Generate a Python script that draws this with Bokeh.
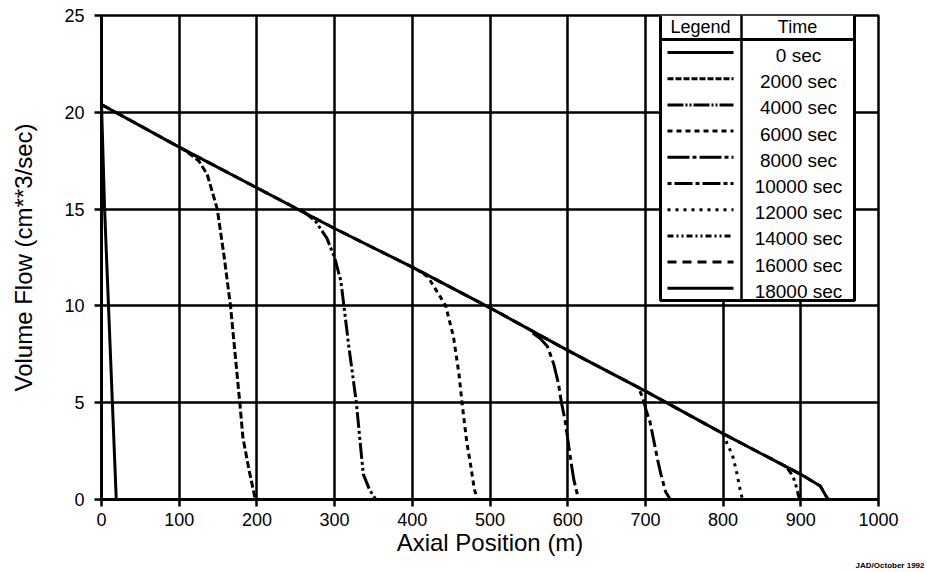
from bokeh.plotting import figure
from bokeh.models import Range1d, FixedTicker, Title
from bokeh.embed import file_html
from bokeh.resources import INLINE
from bokeh.core.properties import value

# ---------------- data ----------------
times = ["0 sec", "2000 sec", "4000 sec", "6000 sec", "8000 sec",
         "10000 sec", "12000 sec", "14000 sec", "16000 sec", "18000 sec"]

x_ticks = [0, 100, 200, 300, 400, 500, 600, 700, 800, 900, 1000]
y_ticks = [0, 5, 10, 15, 20, 25]

x_0 = [0, 4, 9, 14, 19]
y_0 = [20.4, 15, 10, 5, 0]

x_2000 = [100, 112, 125, 136, 149, 158, 166, 178, 182, 190, 198]
y_2000 = [18.2, 17.9, 17.5, 16.8, 15.0, 12.5, 10, 5, 3.2, 1.5, 0]

x_4000 = [256, 275, 290, 300, 308, 312, 318, 328, 334, 337, 345, 353]
y_4000 = [15.0, 14.4, 13.5, 12.5, 11.3, 10, 8, 5, 2.5, 1.3, 0.5, 0]

x_6000 = [405, 420, 434, 443, 453, 460, 464, 470, 475, 480, 484]
y_6000 = [11.9, 11.5, 10.6, 10, 8.4, 6.5, 5, 3, 1.8, 0.5, 0]

x_8000 = [555, 565, 574, 582, 588, 592, 597, 604, 608, 614]
y_8000 = [8.6, 8.3, 7.9, 7, 6.0, 5, 4, 2, 1, 0]

x_10000 = [693, 697, 701, 706, 711, 716, 720, 726, 732]
y_10000 = [5.6, 5.2, 4.6, 4, 3, 2, 1.3, 0.4, 0]

x_12000 = [800, 805, 812, 817, 820, 823, 825]
y_12000 = [3.4, 2.9, 2.3, 1.5, 0.9, 0.3, 0]

x_14000 = [883, 890, 894, 897, 899]
y_14000 = [1.6, 1.2, 0.7, 0.2, 0]

x_16000 = [0, 100, 200, 300, 400, 500, 600, 700, 800, 900, 925, 935]
y_16000 = [20.4, 18.2, 16.1, 14.0, 12.0, 9.9, 7.7, 5.6, 3.4, 1.3, 0.7, 0]

x_18000 = [0, 100, 200, 300, 400, 500, 600, 700, 800, 900, 925, 935]
y_18000 = [20.4, 18.2, 16.1, 14.0, 12.0, 9.9, 7.7, 5.6, 3.4, 1.3, 0.7, 0]

series_x = [x_0, x_2000, x_4000, x_6000, x_8000, x_10000, x_12000, x_14000, x_16000, x_18000]
series_y = [y_0, y_2000, y_4000, y_6000, y_8000, y_10000, y_12000, y_14000, y_16000, y_18000]

# ---------------- styles ----------------
dashes = ["solid", "7 3", "16 3 3 3 3 3", "5 4", "22 4 5 4", "5 4 18 4",
          "3 5", "7 4 3 4 3 4", "9 6", "solid"]
legend_dashes = ["solid", "6 2", "16 2 2 2 2 2", "5 4", "22 3 4 3", "4 3 18 3",
                 "3 5", "6 3 2 3 2 3", "9 6", "solid"]
FONT = "Liberation Sans"

p = figure(width=927, height=572, x_range=Range1d(0, 1000), y_range=Range1d(0, 25),
           output_backend="svg", toolbar_location=None,
           min_border_left=101, min_border_right=49, min_border_top=15, min_border_bottom=73)
p.background_fill_color = "white"
p.border_fill_color = "white"
p.outline_line_color = "black"
p.outline_line_width = 2.5

for ax in (p.xaxis[0], p.yaxis[0]):
    ax.axis_line_width = 3
    ax.axis_line_color = "black"
    ax.major_tick_line_color = "black"
    ax.major_tick_line_width = 2.5
    ax.major_tick_out = 7
    ax.major_tick_in = 0
    ax.minor_tick_line_color = None
    ax.major_label_text_font = FONT
    ax.major_label_text_font_size = "18px"
    ax.major_label_text_color = "black"
    ax.axis_label_text_font = FONT
    ax.axis_label_text_font_size = "24px"
    ax.axis_label_text_font_style = "normal"
    ax.axis_label_text_color = "black"

p.xaxis.ticker = FixedTicker(ticks=x_ticks)
p.yaxis.ticker = FixedTicker(ticks=y_ticks)
p.xaxis.axis_label = "Axial Position (m)"
p.yaxis.axis_label = "Volume Flow (cm**3/sec)"
p.xaxis.major_label_standoff = 6
p.xaxis.axis_label_standoff = 0
p.yaxis.major_label_standoff = 10
p.yaxis.axis_label_standoff = 24

for g in (p.xgrid[0], p.ygrid[0]):
    g.grid_line_color = "black"
    g.grid_line_width = 2.5
    g.grid_line_alpha = 1.0
p.xgrid.ticker = FixedTicker(ticks=x_ticks)
p.ygrid.ticker = FixedTicker(ticks=y_ticks)

# curves (envelope drawn last so it looks solid)
order = [8, 1, 2, 3, 4, 5, 6, 7, 9, 0]
for i in order:
    p.line(series_x[i], series_y[i], line_color="black", line_width=3,
           line_dash=dashes[i], line_join="round")

# ---------------- table-like legend ----------------
def dx(px):
    return (px - 101) / 0.777

def dy(py):
    return (499 - py) / 19.36

p.quad(left=[dx(660)], right=[dx(854)], top=[dy(14)], bottom=[dy(300)],
       fill_color="white", line_color="black", line_width=3)
p.line([dx(741), dx(741)], [dy(14), dy(300)], line_color="black", line_width=2.5)
p.line([dx(660), dx(854)], [dy(39), dy(39)], line_color="black", line_width=3)

p.text(x=[dx(700), dx(797)], y=[dy(26), dy(26)], text=["Legend", "Time"],
       text_font=value(FONT), text_font_size="18px", text_align="center",
       text_baseline="middle", text_color="black")

row_text_y = [dy(55 + 26.2 * i) for i in range(len(times))]
p.text(x=[dx(798)] * len(times), y=row_text_y, text=times,
       text_font=value(FONT), text_font_size="19px", text_align="center",
       text_baseline="middle", text_color="black")

for i in range(len(times)):
    yy = dy(52 + 26.2 * i)
    p.line([dx(667), dx(733)], [yy, yy], line_color="black", line_width=3,
           line_dash=legend_dashes[i])

p.add_layout(Title(text="JAD/October 1992", text_font=FONT, text_font_size="8px",
                   text_font_style="bold", align="right", text_color="black",
                   standoff=0, offset=-46), "below")

open("out.html", "w").write(file_html(p, INLINE))
